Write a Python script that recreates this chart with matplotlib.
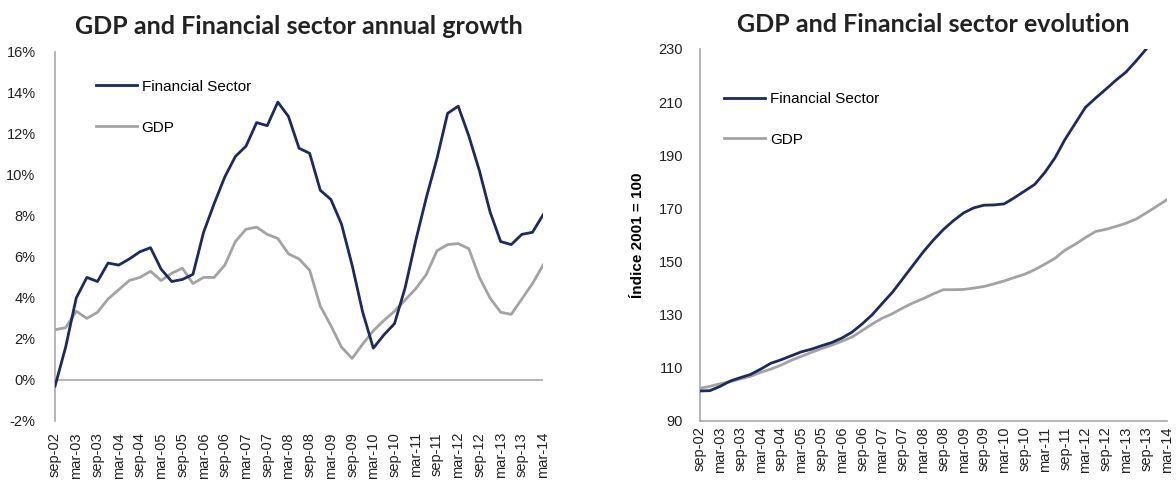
import matplotlib
matplotlib.use("Agg")
import matplotlib.pyplot as plt
import numpy as np

# quarterly data sep-02 .. mar-14 (47 quarters)
quarters = ['sep-02', 'dec-02', 'mar-03', 'jun-03', 'sep-03', 'dec-03', 'mar-04', 'jun-04',
            'sep-04', 'dec-04', 'mar-05', 'jun-05', 'sep-05', 'dec-05', 'mar-06', 'jun-06',
            'sep-06', 'dec-06', 'mar-07', 'jun-07', 'sep-07', 'dec-07', 'mar-08', 'jun-08',
            'sep-08', 'dec-08', 'mar-09', 'jun-09', 'sep-09', 'dec-09', 'mar-10', 'jun-10',
            'sep-10', 'dec-10', 'mar-11', 'jun-11', 'sep-11', 'dec-11', 'mar-12', 'jun-12',
            'sep-12', 'dec-12', 'mar-13', 'jun-13', 'sep-13', 'dec-13', 'mar-14']

# annual growth, %
fin_growth = [-0.3, 1.6, 4.0, 5.0, 4.8, 5.7, 5.6, 5.9, 6.25, 6.45, 5.4, 4.8, 4.9, 5.15,
              7.2, 8.6, 9.9, 10.9, 11.4, 12.55, 12.4, 13.55, 12.85, 11.3, 11.05, 9.25,
              8.8, 7.6, 5.6, 3.3, 1.55, 2.2, 2.75, 4.5, 6.8, 8.9, 10.8, 13.0, 13.35,
              11.9, 10.2, 8.2, 6.75, 6.6, 7.1, 7.2, 8.05]
gdp_growth = [2.45, 2.55, 3.35, 3.0, 3.3, 3.95, 4.4, 4.85, 5.0, 5.3, 4.85, 5.2, 5.45, 4.7,
              5.0, 5.0, 5.6, 6.75, 7.35, 7.45, 7.1, 6.9, 6.15, 5.9, 5.35, 3.6, 2.65, 1.6,
              1.05, 1.75, 2.4, 2.9, 3.35, 3.9, 4.45, 5.15, 6.3, 6.6, 6.65, 6.4, 5.0, 4.0,
              3.3, 3.2, 3.95, 4.7, 5.6]

# index 2001 = 100
fin_index = [101.3, 101.4, 103.0, 105.0, 106.3, 107.5, 109.5, 111.7, 113.0, 114.5, 116.0,
             117.0, 118.3, 119.5, 121.2, 123.4, 126.5, 130.0, 134.3, 138.5, 143.5, 148.5,
             153.5, 158.0, 162.0, 165.4, 168.3, 170.2, 171.2, 171.3, 171.7, 174.0, 176.5,
             179.0, 183.5, 189.0, 196.0, 202.0, 208.0, 211.5, 214.8, 218.2, 221.3, 225.5,
             230.0, 234.5, 239.0]
gdp_index = [102.3, 103.0, 104.0, 104.8, 105.8, 106.8, 108.3, 109.5, 111.0, 112.8, 114.3,
             115.8, 117.2, 118.5, 120.0, 121.6, 124.0, 126.5, 128.7, 130.4, 132.5, 134.4,
             136.0, 137.8, 139.4, 139.4, 139.5, 140.0, 140.6, 141.6, 142.7, 144.0, 145.2,
             146.9, 149.0, 151.2, 154.3, 156.5, 159.0, 161.3, 162.1, 163.2, 164.4, 166.0,
             168.3, 170.7, 173.2]

navy = '#1c2a5e'
grey = '#a3a3a3'
axis_col = '#a8a8b0'

plt.rcParams['font.family'] = ['Liberation Sans', 'DejaVu Sans']
plt.rcParams['font.size'] = 10.5

fig = plt.figure(figsize=(11.76, 4.8), dpi=100)
ax1 = fig.add_axes([0.0468, 0.123, 0.415, 0.769])
ax2 = fig.add_axes([0.595, 0.123, 0.397, 0.775])

x = np.arange(len(quarters))
tick_pos = x[::2]
tick_lab = quarters[::2]

# left: annual growth
ax1.plot(x, fin_growth, color=navy, lw=2, label='Financial Sector', zorder=3)
ax1.plot(x, gdp_growth, color=grey, lw=2, label='GDP', zorder=2)
ax1.plot([x[0], x[-1]], [0, 0], color=axis_col, lw=1.2, zorder=1)
ax1.set_xlim(0, len(quarters) - 1)
ax1.set_ylim(-2, 16)
ax1.set_yticks(np.arange(-2, 17, 2))
ax1.set_yticklabels(['%d%%' % v for v in range(-2, 17, 2)])
ax1.set_xticks(tick_pos)
ax1.set_xticklabels(tick_lab, rotation=90)
for s in ['top', 'right', 'bottom']:
    ax1.spines[s].set_visible(False)
ax1.spines['left'].set_color(axis_col)
ax1.spines['left'].set_linewidth(1.2)
ax1.tick_params(axis='both', length=0, colors='#222222')
ax1.tick_params(axis='y', pad=14)
ax1.tick_params(axis='x', pad=8)
ax1.legend(loc='upper left', bbox_to_anchor=(0.068, 0.945), frameon=False, borderpad=0,
           handlelength=2.7, handletextpad=0.3, labelspacing=1.75, fontsize=11)

# right: index evolution
ax2.plot(x, fin_index, color=navy, lw=2, label='Financial Sector', zorder=3)
ax2.plot(x, gdp_index, color=grey, lw=2, label='GDP', zorder=2)
ax2.set_xlim(0, len(quarters) - 1)
ax2.set_ylim(90, 230)
ax2.set_yticks(np.arange(90, 231, 20))
ax2.set_xticks(tick_pos)
ax2.set_xticklabels(tick_lab, rotation=90)
for s in ['top', 'right']:
    ax2.spines[s].set_visible(False)
for s in ['left', 'bottom']:
    ax2.spines[s].set_color(axis_col)
    ax2.spines[s].set_linewidth(1.2)
ax2.tick_params(axis='both', length=0, colors='#222222')
ax2.tick_params(axis='y', pad=12)
ax2.tick_params(axis='x', pad=4)
ax2.set_ylabel('Índice 2001 = 100', fontweight='bold', fontsize=11, labelpad=10)
ax2.legend(loc='upper left', bbox_to_anchor=(0.036, 0.905), frameon=False, borderpad=0,
           handlelength=2.7, handletextpad=0.3, labelspacing=1.75, fontsize=11)

# titles
fig.text(0.2545, 0.945, 'GDP and Financial sector annual growth', ha='center', va='center',
         fontsize=18, fontweight='bold', family=['Lato', 'DejaVu Sans'], color='#222222')
fig.text(0.7935, 0.950, 'GDP and Financial sector evolution', ha='center', va='center',
         fontsize=18, fontweight='bold', family=['Lato', 'DejaVu Sans'], color='#222222')

fig.savefig('out.png', dpi=100)
